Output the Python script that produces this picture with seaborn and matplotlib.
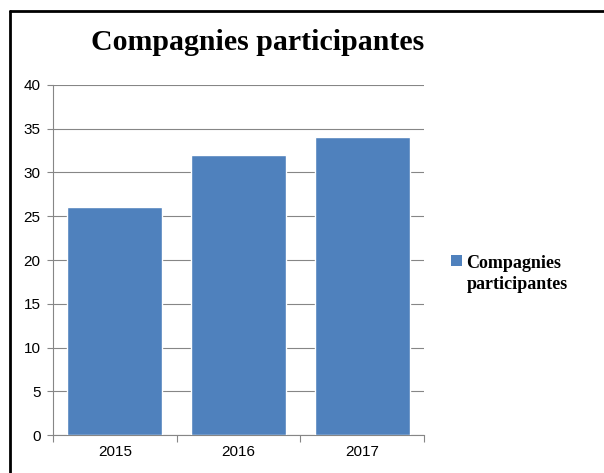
import matplotlib
matplotlib.use("Agg")
import matplotlib.pyplot as plt
import seaborn as sns
import pandas as pd
from matplotlib.lines import Line2D
from matplotlib.patches import Patch, Rectangle
from matplotlib.legend_handler import HandlerPatch

years = ["2015", "2016", "2017"]
values = [26, 32, 34]
series_name = "Compagnies participantes"
yticks = [0, 5, 10, 15, 20, 25, 30, 35, 40]

sns.set_style("white")
plt.rcParams['font.family'] = ['Liberation Sans', 'DejaVu Sans']
plt.rcParams['text.color'] = 'black'
plt.rcParams['xtick.color'] = 'black'
plt.rcParams['ytick.color'] = 'black'

df = pd.DataFrame({"year": years, "value": values})

fig = plt.figure(figsize=(6.04, 4.73), dpi=100)
ax = fig.add_axes([53/604, 1-435/473, (424-53)/604, (435-85)/473])

bar_color = "#4F81BD"
sns.barplot(data=df, x="year", y="value", color=bar_color, width=0.77,
            saturation=1, ax=ax, zorder=3)

grid_c = "#868686"
ax.set_ylim(0, 40)
ax.set_xlim(-0.5, 2.5)
ax.set_yticks(yticks)
ax.yaxis.grid(True, color=grid_c, linewidth=0.8, zorder=0)
ax.set_axisbelow(True)
ax.set_xlabel("")
ax.set_ylabel("")
for s in ["top", "right"]:
    ax.spines[s].set_visible(False)
for s in ["left", "bottom"]:
    ax.spines[s].set_color(grid_c)
    ax.spines[s].set_linewidth(0.8)

ax.tick_params(axis="y", which="major", length=4, color=grid_c, width=0.8,
               labelsize=11, pad=5, left=True, direction="out", labelcolor="black")
ax.tick_params(axis="x", which="major", length=0, labelsize=11, pad=7, labelcolor="black")
ax.set_xticks([-0.5, 0.5, 1.5, 2.5], minor=True)
ax.tick_params(axis="x", which="minor", length=5, color=grid_c, width=0.8,
               bottom=True, direction="out")

fig.suptitle(series_name, x=258/604, y=1-42/473, va="center", color="black",
             fontsize=21.5, fontweight="bold", family=["Liberation Serif"])


def top_square(legend, orig_handle, xdescent, ydescent, width, height, fontsize):
    s = width
    return Rectangle((-xdescent, -ydescent + height - s + 4.3), s, s)


handle = Patch(facecolor=bar_color, edgecolor="none")
leg = fig.legend([handle], ["Compagnies\nparticipantes"], loc="upper left",
                 bbox_to_anchor=(451/604, 1-255/473), frameon=False,
                 prop={"family": "Liberation Serif", "weight": "bold", "size": 13},
                 handlelength=0.6, handleheight=2.0, handletextpad=0.25,
                 borderaxespad=0, borderpad=0, labelcolor="black",
                 handler_map={Patch: HandlerPatch(patch_func=top_square)})
for t in leg.get_texts():
    t.set_linespacing(1.28)

# outer chart frame (top and left edges visible in reference)
fig.add_artist(Line2D([9.5/604, 9.5/604], [0, 1-11.5/473], color="black",
                      linewidth=2, transform=fig.transFigure))
fig.add_artist(Line2D([9.5/604, 1], [1-11.5/473, 1-11.5/473], color="black",
                      linewidth=2, transform=fig.transFigure))

fig.savefig("out.png", dpi=100)
